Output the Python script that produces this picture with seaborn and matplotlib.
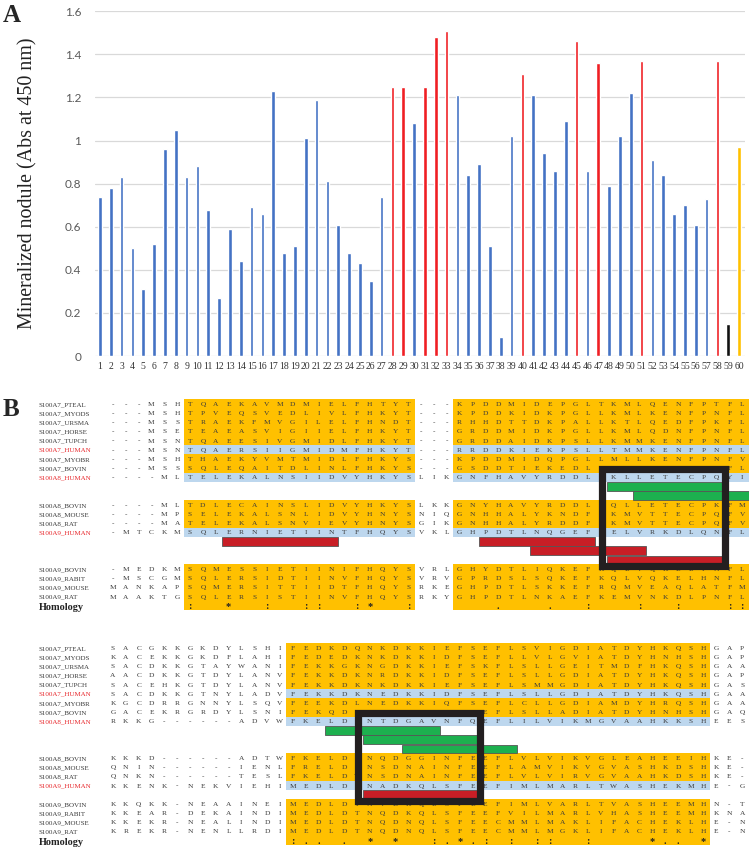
import numpy as np
import matplotlib.pyplot as plt
import matplotlib.patches as mpatches
from matplotlib.colors import ListedColormap
import seaborn as sns

# ---------------------------------------------------------------
# Panel A data: mineralized nodule per peptide
# ---------------------------------------------------------------
samples = [str(i) for i in range(1, 61)]
nodule = [0.74, 0.78, 0.83, 0.50, 0.31, 0.52, 0.96, 1.05, 0.83, 0.88,
          0.68, 0.27, 0.59, 0.44, 0.69, 0.66, 1.23, 0.48, 0.51, 1.01,
          1.19, 0.81, 0.61, 0.48, 0.43, 0.35, 0.74, 1.25, 1.25, 1.08,
          1.25, 1.48, 1.51, 1.21, 0.84, 0.89, 0.51, 0.09, 1.02, 1.31,
          1.21, 0.94, 0.86, 1.09, 1.46, 0.86, 1.36, 0.79, 1.02, 1.22,
          1.37, 0.91, 0.84, 0.66, 0.70, 0.61, 0.73, 1.37, 0.15, 0.97]
high_ids = [28, 29, 31, 32, 33, 40, 45, 47, 51, 58]
neg_id, pos_id = 59, 60
groups = ["high" if i in high_ids else "neg" if i == neg_id else "pos" if i == pos_id
          else "other" for i in range(1, 61)]

# ---------------------------------------------------------------
# Panel B data: S100 alignment
# ---------------------------------------------------------------
seq_names = ["S100A7_PTEAL", "S100A7_MYODS", "S100A7_URSMA", "S100A7_HORSE",
             "S100A7_TUPCH", "S100A7_HUMAN", "S100A7_MYOBR", "S100A7_BOVIN",
             "S100A8_HUMAN", "S100A8_BOVIN", "S100A8_MOUSE", "S100A8_RAT",
             "S100A9_HUMAN", "S100A9_BOVIN", "S100A9_RABIT", "S100A9_MOUSE",
             "S100A9_RAT"]

block1_seqs = [
    "---MSH" "TQAEKAVMDMIELFHTYT" "---" "KPDDMIDEPGLTKMLQENFPTFL",
    "---MSH" "TPVEQSVEDLIVLFHKYT" "---" "KPDDKIDKPGLLKMLKENFPNFL",
    "---MSS" "TRAEKFMVGILELFHNDT" "---" "RHHDTTDKPALLKTLQEDFPKFL",
    "---MSE" "TEAEASVIGIIELFHKYT" "---" "GRDDMIDKPGLLKMLQDNFPNFL",
    "---MSN" "TQAEESIVGMIDLFHKYT" "---" "GRDDAIDKPSLLKMMKENFPNFL",
    "---MSN" "TQAERSIIGMIDMFHKYT" "---" "RRDDKIEKPSLLTMMKENFPNFL",
    "---MSH" "THAEKYVMTMIDLFHKYS" "---" "KPDDMIDQPGLLMLLKENFPNFV",
    "---MSS" "SQLEQAITDLINLFHKYS" "---" "GSDDTIEKEDLLKMLKENFPNFL",
    "----ML" "TELEKALNSIIDVYHKYS" "LIK" "GNFHAVYRDDLKKLLETECPQYI",
    "----ML" "TDLECAINSLIDVYHKYS" "LKK" "GNYHAVYRDDLKQLLETECPKFM",
    "----MP" "SELEKALSNLIDVYHNYS" "NIQ" "GNHHALYKNDFKKMVTTECPQFV",
    "----MA" "TELEKALSNVIEVYHNYS" "GIK" "GNHHALYRDDFRKMVTTECPQFV",
    "-MTCKM" "SQLERNIETIINTFHQYS" "VKL" "GHPDTLNQGEFKELVRKDLQNFL",
    "-MEDKM" "SQMESSIETIINIFHQYS" "VRL" "GHYDTLIQKEFKQLVQKELPNFL",
    "-MSCGM" "SQLERSIDTIINVFHQYS" "VRV" "GPRDSLSQKEFKQLVQKELHNFL",
    "MANKAP" "SQMERSITTIIDTFHQYS" "RKE" "GHPDTLSKKEFRQMVEAQLATFM",
    "MAAKTG" "SQLERSISTIINVFHQYS" "RKY" "GHPDTLNKAEFKEMVNKDLPNFL",
]
block2_seqs = [
    "SACGKKGKDYLSHI" "FEDKDQNKDKKIEFSEFLSVIGDIATDYHKQSH" "GAP",
    "KACEKKGKDFLAHI" "FEDEDKNKDKKIDFSEFLLVLGVIATDYHNHSH" "GAP",
    "SACDKKGTAYWANI" "FEKKGKNGDKKIEFSKFLSLLGEITMDFHKQSH" "GAA",
    "AACDKKGTDYLANV" "FEKKDKNRDKKIDFSEFLSLLGDIATDYHKQSH" "GAP",
    "SACEHKGTDYLANV" "FEKKDKNKDKKIEFSEFLSMMGDIATDYHKQSH" "GAS",
    "SACDKKGTNYLADV" "FEKKDKNEDKKIDFSEFLSLLGDIATDYHKQSH" "GAA",
    "KGCDRRGNNYLSQV" "FEEKDLNEDKKIQFSEFLCLLGDIAMDYHRQSH" "GAA",
    "GACEKRGRDYLSNI" "FEKQDKNEDKKIDFSEFLSLLADIATDYHNHSH" "GAQ",
    "RKKG------ADVW" "FKELDINTDGAVNFQEFLILVIKMGVAAHKKSH" "EES",
    "KKKD------ADTW" "FKELDINQDGGINFEEFLVLVIKVGLEAHEEIH" "KE-",
    "QNIN------IENL" "FRELDINSDNAINFEEFLAMVIKVGVASHKDSH" "KE-",
    "QNKN------TESL" "FKELDVNSDNAINFEEFLVLVIRVGVAAHKDSH" "KE-",
    "KKENK-NEKVIEHI" "MEDLDTNADKQLSFEEFIMLMARLTWASHEKMH" "E-G",
    "KKQKK-NEAAINEI" "MEDLDTNVDKQLSFEEFIMLVARLTVASHEEMH" "N-T",
    "KKEAR-DEKAINDI" "MEDLDTNQDKQLSFEEFVILMARLVHASHEEMH" "KNA",
    "KKEKR-NEALINDI" "MEDLDTNQDNQLSFEECMMLMAKLIFACHEKLH" "E-N",
    "KREKR-NENLLRDI" "MEDLDTNQDNQLSFEECMMLMGKLIFACHEKLH" "E-N",
]

block1_slots = list(range(0, 9)) + list(range(11, 15)) + list(range(18, 22))
block2_slots = list(range(0, 9)) + list(range(12, 16)) + list(range(17, 21))
block1_shaded = [(6, 23), (27, 49)]
block2_shaded = [(14, 46)]
block1_homology = {6: ":", 9: "*", 12: ":", 15: ":", 16: ":", 19: ":", 20: "*", 23: ":",
                   30: ".", 34: ".", 37: ":", 41: ":", 44: ":", 48: ":", 49: ":"}
block2_homology = {14: ":", 15: ".", 16: ".", 18: ".", 20: "*", 22: "*", 25: ":", 26: ".",
                   27: "*", 28: ".", 29: ":", 31: ":", 33: ":", 34: ":", 37: ":", 42: "*",
                   43: ".", 44: ".", 46: "*"}
# peptides: (start column, row, kind)
block1_peptides = [(39, 9, "g"), (41, 10, "g"), (9, 15, "r"), (29, 15, "r"),
                   (33, 16, "r"), (39, 17, "r")]
block2_peptides = [(17, 9, "g"), (20, 10, "g"), (23, 11, "g"), (20, 16, "r")]

# ---------------------------------------------------------------
# Style
# ---------------------------------------------------------------
sns.set_style("white")
plt.rcParams["font.family"] = ["Liberation Serif", "DejaVu Serif"]

BLUE, RED, BLACK, GOLD = "#4472C4", "#F01E23", "#111111", "#FFC000"
ORANGE, LBLUE = "#FFC000", "#BDD7EE"
GREEN, DRED = "#1DB04F", "#C81E26"
TXT = "#3a3a3a"
W, H = 751, 852

fig = plt.figure(figsize=(W / 100, H / 100), dpi=100)

# ---------------------------------------------------------------
# A) bar chart
# ---------------------------------------------------------------
ax = fig.add_axes([95 / W, 1 - 356 / H, 650 / W, (356 - 11.3) / H])
sns.barplot(x=samples, y=nodule, hue=groups, dodge=False, width=0.34, saturation=1,
            palette={"other": BLUE, "high": RED, "neg": BLACK, "pos": GOLD},
            legend=False, ax=ax, zorder=3)
ax.set_ylim(0, 1.6)
ax.set_xlim(-0.46, 59.55)
ax.set_yticks(np.arange(0, 1.61, 0.2))
ax.set_yticklabels([f"{v:g}" for v in np.arange(0, 1.61, 0.2)],
                   family="Lato", fontsize=8.5, color="#595959")
ax.tick_params(axis="y", length=0, pad=10)
ax.tick_params(axis="x", length=0, pad=4, labelsize=7, labelcolor="#333333")
ax.grid(axis="y", color="#D9D9D9", lw=0.9, zorder=0)
ax.set_axisbelow(True)
for s in ax.spines.values():
    s.set_visible(False)
ax.set_xlabel("")
ax.set_ylabel("Mineralized nodule (Abs at 450 nm)", fontsize=14.4, color="#222222")
ax.yaxis.set_label_coords(-0.088, 0.5)

fig.text(3 / W, 1 - 4 / H, "A", fontsize=18, fontweight="bold", va="top", ha="left")
fig.text(3 / W, 1 - 398 / H, "B", fontsize=18, fontweight="bold", va="top", ha="left")


# ---------------------------------------------------------------
# B) alignment blocks
# ---------------------------------------------------------------
def draw_block(ax, seqs, slots, n_rows, shaded, homology, peptides, box):
    hom_row = n_rows - 1
    shade = np.zeros((n_rows, 50))
    letters = np.full((n_rows, 50), "", dtype=object)
    for name, seq, r in zip(seq_names, seqs, slots):
        for a, b in shaded:
            shade[r, a:b + 1] = 2 if "HUMAN" in name else 1
        letters[r, :] = list(seq)
    for a, b in shaded:
        shade[hom_row, a:b + 1] = 1
    sns.heatmap(shade, ax=ax, cmap=ListedColormap(["white", ORANGE, LBLUE]),
                vmin=0, vmax=2, cbar=False, annot=letters, fmt="",
                annot_kws={"fontsize": 5.3, "color": TXT, "va": "center_baseline"},
                xticklabels=False, yticklabels=False)
    ax.axis("off")

    for name, r in zip(seq_names, slots):
        ax.text(-5.27, r + 0.5, name, fontsize=5, va="center_baseline", ha="left",
                color="#E8262A" if "HUMAN" in name else TXT)
    ax.text(-5.25, hom_row + 0.6, "Homology", fontsize=7.4, fontweight="bold",
            va="center_baseline", ha="left", color="#222222")
    for c, sym in homology.items():
        ax.text(c + 0.5, hom_row + 0.6, sym, fontsize=7.5, fontweight="bold",
                va="center", ha="center", color="#222222")

    for c, r, kind in peptides:
        ax.add_patch(mpatches.Rectangle((c, r + 0.04), 9, 0.92,
                                        facecolor=GREEN if kind == "g" else DRED,
                                        edgecolor="#555555", lw=0.6, zorder=4))
    x0, y0, bw, bh = box
    ax.add_patch(mpatches.Rectangle((x0, y0), bw, bh, fill=False, edgecolor="#231F20",
                                    lw=5.2, joinstyle="miter", zorder=6))


pitch = 9.17
ax_b1 = fig.add_axes([106.6 / W, 1 - (399.4 + 23 * pitch) / H, 642 / W, 23 * pitch / H])
draw_block(ax_b1, block1_seqs, block1_slots, 23, block1_shaded, block1_homology,
           block1_peptides, (38.6, 7.54, 9.6, 10.66))

ax_b2 = fig.add_axes([106.6 / W, 1 - (643.4 + 22 * pitch) / H, 642 / W, 22 * pitch / H])
draw_block(ax_b2, block2_seqs, block2_slots, 22, block2_shaded, block2_homology,
           block2_peptides, (19.58, 7.54, 9.5, 9.66))

plt.savefig("out.png", dpi=100)
plt.close()
